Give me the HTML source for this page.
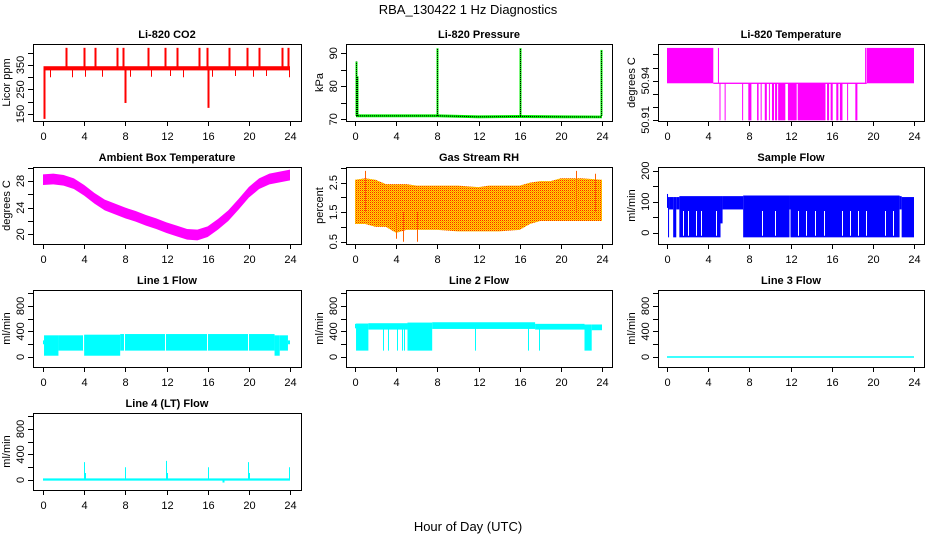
<!DOCTYPE html>
<html><head><meta charset="utf-8"><style>
html,body{margin:0;padding:0;background:#fff;}
svg{display:block;font-family:"Liberation Sans",Arial,sans-serif;}
</style></head><body>
<svg id="chart" width="936" height="540" viewBox="0 0 936 540">
<defs>
<pattern id="rhpat" width="2" height="2" patternUnits="userSpaceOnUse">
<rect width="2" height="2" fill="#ffdd00"/><rect width="1" height="1" fill="#ff2000"/><rect x="1" y="1" width="1" height="1" fill="#ff9000"/>
</pattern>
</defs>
<text x="468" y="14" text-anchor="middle" font-size="13">RBA_130422  1 Hz Diagnostics</text>
<text x="468" y="531" text-anchor="middle" font-size="13">Hour of Day (UTC)</text>
</svg>
<script>
// ---- data ----
const xTicks = [0,4,8,12,16,20,24];
// CO2
const co2Band = [[0.05,24,328,345]];
const co2UpSpikes = [2.2,4.0,5.1,7.2,7.8,10.2,11.9,13.0,15.2,15.9,18.1,19.8,21.0,23.2,23.8];
const co2UpVal = 420;
const co2DownSpikes = [[0.08,130],[8.0,195],[16.0,175],[0.7,300],[2.8,300],[4.1,302],[5.7,302],[8.5,302],[10.5,302],[12.3,305],[13.6,300],[16.4,302],[18.7,305],[20.4,302],[21.7,305],[23.9,300]];
// Pressure
const presHours = [0.1,4,8,12,16,20,24];
const presLow = [70.6,70.6,70.6,70.3,70.4,70.3,70.3];
const presHigh = [71.5,71.5,71.5,71.2,71.3,71.2,71.1];
const presSpikes = [[0.05,87.5],[0.15,83],[8.0,91.5],[16.0,91.5],[16.05,91.5],[23.95,91]];
// Temperature
const tempHighBlocks = [[0,4.5],[19.4,24],[4.95,5.0],[19.25,19.35]];
const tempLevels = [50.9092,50.938,50.965];
const tempLowBars = [[5.1,5.15],[5.6,5.65],[7.3,7.35],[7.9,8.2],[8.75,8.9],[9.1,9.15],[9.5,9.7],[9.9,9.95],[10.2,10.4],[10.5,10.7],[10.8,11.5],[11.75,12.6],[12.7,15.4],[15.55,15.75],[15.9,16.1],[16.45,16.65],[16.8,17.05],[17.5,17.55],[18.3,18.5]];
// Ambient box temperature (hourly centre)
const ambHours = [0,1,2,3,4,5,6,7,8,9,10,11,12,13,14,15,16,17,18,19,20,21,22,23,24];
const ambTemp = [28.2,28.3,28.1,27.6,26.6,25.4,24.4,23.8,23.2,22.7,22.1,21.6,21.0,20.5,20.0,19.9,20.4,21.5,22.8,24.5,26.3,27.6,28.3,28.6,28.9];
const ambHalfWidth = 0.8;
// Gas stream RH
const rhHours = [0,1,2,3,4,5,6,8,10,12,13,14,16,17,18,19,20,22,24];
const rhLow = [1.1,1.1,1.0,1.0,0.8,0.9,0.9,0.9,0.85,0.85,0.85,0.85,0.9,1.1,1.2,1.2,1.2,1.2,1.2];
const rhHigh = [2.6,2.65,2.6,2.45,2.45,2.45,2.4,2.4,2.4,2.35,2.4,2.4,2.4,2.5,2.55,2.55,2.65,2.65,2.6];
const rhSpikes = [[1.0,2.9],[4.0,0.6],[4.7,0.5],[6.0,0.5],[21.5,2.9],[23.3,2.8]];
// Sample flow segments [start,end,low,high]
const sfSeg = [[0,0.1,80,125],[0.1,0.2,-15,115],[0.2,0.6,75,115],[0.6,0.9,-15,115],[0.9,1.2,75,115],[1.2,5.2,-15,118],[5.2,5.4,30,118],[5.4,7.4,75,118],[7.4,11.9,-15,120],[11.9,12.0,75,120],[12.0,22.6,-15,120],[22.6,22.8,75,118],[22.8,24,-15,115]];
const sfGaps = [1.6,2.0,2.8,3.3,4.8,9.2,10.5,12.7,13.5,14.4,15.3,17.0,17.8,18.6,19.3,21.2,22.0];
// Line 1 flow
const l1Seg = [[0,0.1,200,260],[0.1,1.5,20,340],[1.5,4.0,100,340],[4.0,7.5,20,350],[7.5,22.5,100,360],[22.5,23.0,20,340],[23.0,23.8,100,340],[23.8,24,200,260]];
const l1Gaps = [3.9,7.9,11.9,15.9,19.9];
// Line 2 flow
const l2Seg = [[0,0.1,450,520],[0.1,1.3,100,525],[1.3,5.1,430,530],[5.1,7.5,100,540],[7.5,17.5,440,545],[17.5,22.3,430,520],[22.3,23.0,100,510],[23.0,24,420,510]];
const l2Dips = [2.7,3.2,4.1,4.6,4.8,11.7,16.8,17.9];
const l2DipVal = 100;
// Line 3 flow
const l3Seg = [[0,24,-12,12]];
// Line 4 flow
const l4Seg = [[0,24,-10,25]];
const l4Spikes = [[4.0,280],[4.1,110],[8.0,200],[11.95,300],[12.05,110],[16.0,200],[19.95,280],[20.05,110],[23.9,200],[17.5,-40]];

// ---- layout ----
const svg = document.getElementById('chart');
const NS = 'http://www.w3.org/2000/svg';
const colBox = [[33,301],[346,612],[658,924]];
const colX0 = [43,355,667], colX24 = [290,602,914];
const rowTop = [44,167,290,413], boxH = 77;

function el(tag, attrs, parent){
  const e = document.createElementNS(NS, tag);
  for (const k in attrs) e.setAttribute(k, attrs[k]);
  (parent||svg).appendChild(e);
  return e;
}

function makePanel(col,row,title,ylab,ymin,ymax,yticks,ylabels,name){
  const g = el('g',{});
  
  
  const L = colBox[col][0], R = colBox[col][1], T = rowTop[row], B = T + boxH;
  const xs = h => colX0[col] + (colX24[col]-colX0[col]) * h / 24;
  const ys = v => B - (v - ymin) / (ymax - ymin) * boxH;
  const t = el('text',{x:(L+R)/2,y:T-6,'text-anchor':'middle','font-size':11,'font-weight':'bold'},g);
  t.textContent = title;
  
  
  const plot = el('g',{},g);
  
  
  const box = el('rect',{x:L+0.5,y:T+0.5,width:R-L,height:boxH,fill:'none',stroke:'#000','stroke-width':1},g);
  
  
  const xa = el('g',{},g);
  
  
  el('line',{x1:xs(0),x2:xs(24),y1:B+0.5,y2:B+0.5,stroke:'#000'},xa);
  xTicks.forEach(h=>{
    const x = Math.round(xs(h))+0.5;
    el('line',{x1:x,x2:x,y1:B,y2:B+5,stroke:'#000'},xa);
    const tx = el('text',{x:x,y:B+19,'text-anchor':'middle','font-size':11},xa);
    tx.textContent = h;
    
    
  });
  const ya = el('g',{},g);
  
  
  yticks.forEach(v=>{
    const y = Math.round(ys(v))+0.5;
    if (y < T-1 || y > B+1) return;
    el('line',{x1:L-5,x2:L,y1:y,y2:y,stroke:'#000'},ya);
  });
  ylabels.forEach(v=>{
    const y = ys(v);
    const tx = el('text',{x:0,y:0,'text-anchor':'middle','font-size':11,transform:`translate(${L-9},${y}) rotate(-90)`},ya);
    tx.textContent = v;
    
    
  });
  const yt = el('text',{x:0,y:0,'text-anchor':'middle','font-size':11,transform:`translate(${L-23},${(T+B)/2}) rotate(-90)`},ya);
  yt.textContent = ylab;
  
  
  return {plot,xs,ys};
}
function segRects(p, segs, color){
  segs.forEach(s=>{
    const x1 = p.xs(s[0]), x2 = Math.max(p.xs(s[1]), x1+1);
    const yA = p.ys(s[3]), yB = p.ys(s[2]);
    const r = el('rect',{x:x1,y:yA,width:x2-x1,height:Math.max(yB-yA,1),fill:color},p.plot);
    
    
  });
}
function vline(p, h, v1, v2, color, w){
  const x = Math.round(p.xs(h))+0.5;
  const l = el('line',{x1:x,x2:x,y1:p.ys(v1),y2:p.ys(v2),stroke:color,'stroke-width':w||1},p.plot);
  
  
  return l;
}
function bandPoly(p, hours, lo, hi, fill){
  let pts = hours.map((h,i)=>p.xs(h)+','+p.ys(hi[i]));
  pts = pts.concat(hours.slice().reverse().map((h,k)=>{const i=hours.length-1-k;return p.xs(h)+','+p.ys(lo[i]);}));
  const pg = el('polygon',{points:pts.join(' '),fill:fill},p.plot);
  
  
}

// CO2
let p = makePanel(0,0,'Li-820 CO2','Licor ppm',121.4,435.7,[150,200,250,300,350,400],[150,250,350],'co2');
segRects(p, co2Band, '#ff0000');
co2UpSpikes.forEach(h=>vline(p,h,335,co2UpVal,'#ff0000',2));
co2DownSpikes.forEach(s=>vline(p,s[0],335,s[1],'#ff0000',s[1]<250?2:1));

// Pressure
p = makePanel(1,0,'Li-820 Pressure','kPa',69.48,92.8,[70,75,80,85,90],[70,80,90],'pressure');
bandPoly(p, presHours, presLow, presHigh, '#00ee00');
presSpikes.forEach(s=>{vline(p,s[0],71,s[1],'#00ee00',2);});
presSpikes.forEach(s=>{const l=vline(p,s[0],71,s[1],'#000',1);l.setAttribute('stroke-dasharray','1,1');});
{const l = el('polyline',{points:presHours.map((h,i)=>p.xs(h)+','+p.ys((presLow[i]+presHigh[i])/2)).join(' '),fill:'none',stroke:'#000','stroke-dasharray':'1,1'},p.plot);

}

// Temperature
p = makePanel(2,0,'Li-820 Temperature','degrees C',50.9092,50.968,[50.91,50.92,50.93,50.94,50.95,50.96],[50.91,50.94],'temperature');
segRects(p, tempHighBlocks.map(b=>[b[0],b[1],tempLevels[1],tempLevels[2]]), '#ff00ff');
segRects(p, [[4.5,19.4,tempLevels[1]-0.0005,tempLevels[1]+0.0005]], '#ff00ff');
segRects(p, tempLowBars.map(b=>[b[0],b[1],tempLevels[0]+0.0005,tempLevels[1]]), '#ff00ff');

// Ambient
p = makePanel(0,1,'Ambient Box Temperature','degrees C',18.55,30.1,[20,22,24,26,28,30],[20,24,28],'ambient');
bandPoly(p, ambHours, ambTemp.map(v=>v-ambHalfWidth), ambTemp.map(v=>v+ambHalfWidth), '#ff00ff');

// RH
p = makePanel(1,1,'Gas Stream RH','percent',0.422,3.03,[0.5,1,1.5,2,2.5,3],[0.5,1.5,2.5],'rh');
bandPoly(p, rhHours, rhLow, rhHigh, 'url(#rhpat)');
rhSpikes.forEach(s=>vline(p,s[0],1.5,s[1],'#ff6000',1));

// Sample flow
p = makePanel(2,1,'Sample Flow','ml/min',-36.5,212,[0,50,100,150,200],[0,100,200],'sample-flow');
segRects(p, sfSeg, '#0000ff');
sfGaps.forEach(h=>vline(p,h,-10,70,'#fff',1));

// Line 1
const lfTicks=[0,200,400,600,800,1000], lfLabels=[0,400,800];
p = makePanel(0,2,'Line 1 Flow','ml/min',-157,1051,lfTicks,lfLabels,'line1-flow');
segRects(p, l1Seg, '#00ffff');
l1Gaps.forEach(h=>vline(p,h,100,360,'#fff',1));

// Line 2
p = makePanel(1,2,'Line 2 Flow','ml/min',-157,1051,lfTicks,lfLabels,'line2-flow');
segRects(p, l2Seg, '#00ffff');
l2Dips.forEach(h=>vline(p,h,450,l2DipVal,'#00ffff',1));

// Line 3
p = makePanel(2,2,'Line 3 Flow','ml/min',-157,1051,lfTicks,lfLabels,'line3-flow');
segRects(p, l3Seg, '#00ffff');

// Line 4
p = makePanel(0,3,'Line 4 (LT) Flow','ml/min',-157,1051,lfTicks,lfLabels,'line4-flow');
segRects(p, l4Seg, '#00ffff');
l4Spikes.forEach(s=>vline(p,s[0],5,s[1],'#00ffff',s[1]<0?2:1));
</script>
</body></html>
